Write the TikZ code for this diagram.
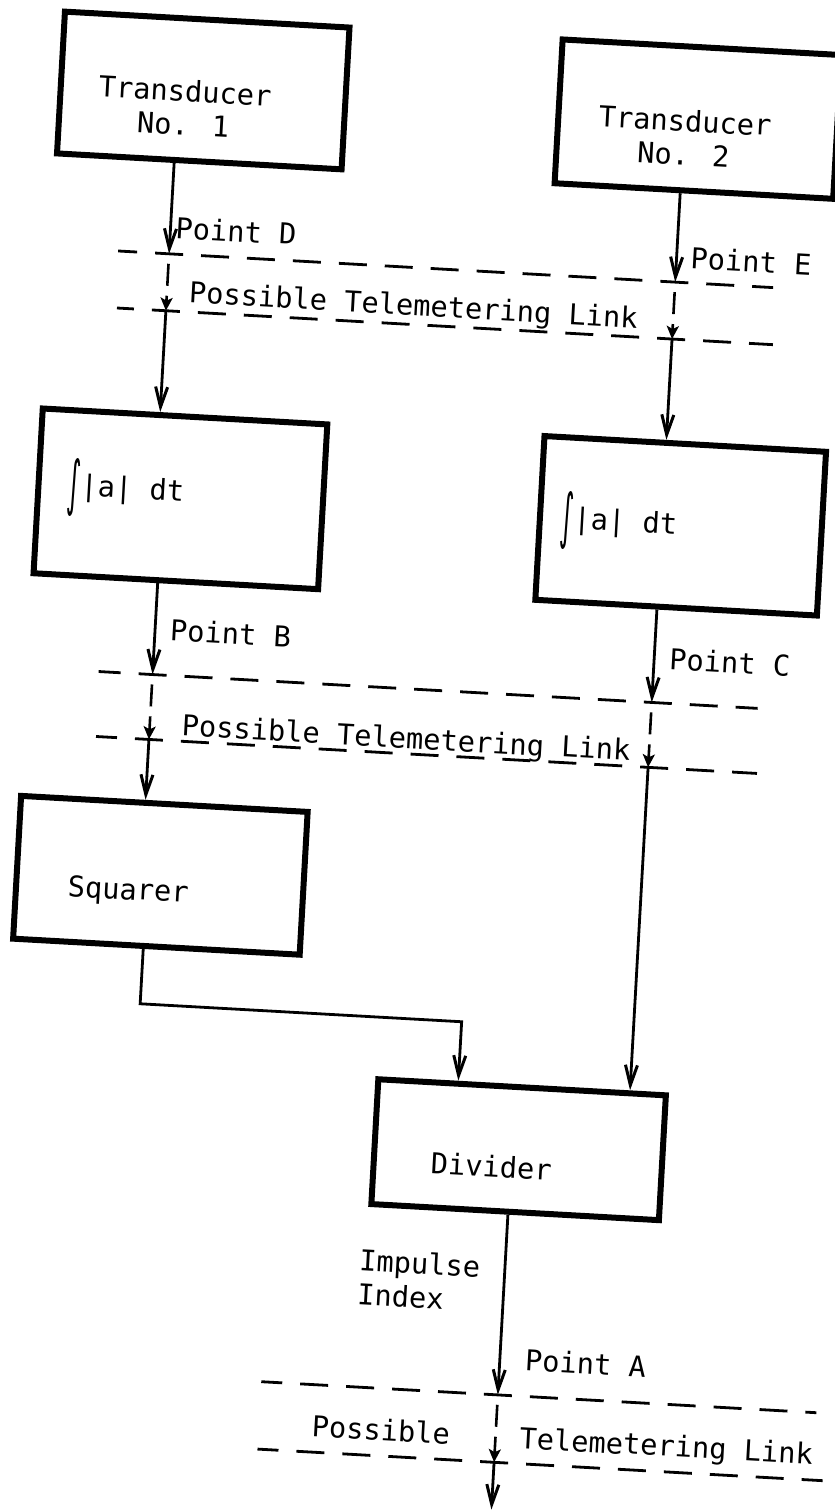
\documentclass[tikz,border=0pt]{standalone}
\usepackage{fontspec}
\newfontfamily\typer{DejaVu Sans Mono}
\newfontfamily\symtyper{DejaVu Sans}
\usepackage{tikz}
\usetikzlibrary{arrows.meta, calc}

\newcommand{\absint}{\raisebox{-9pt}{\scalebox{0.9}[2.1]{\symtyper ∫}}|a| dt}

\begin{document}
\begin{tikzpicture}[
    x=1pt, y=-1pt,
    font=\fontsize{28.7pt}{34pt}\typer,
    block/.style={rectangle, draw=black, line width=6pt, inner sep=0pt,
                  minimum width=285pt, minimum height=142pt},
    txt/.style={inner sep=0pt},
    arr/.style={-{Straight Barb[length=20pt,width=12pt,line width=3pt]}, line width=2.8pt},
    hop/.style={-{Stealth[length=13pt,width=12pt,inset=3pt]}, line width=2.6pt,
                dash pattern=on 22pt off 10pt, dash phase=22pt},
    link/.style={line width=2.8pt, dash pattern=on 28pt off 18pt, dash phase=#1}
]
\useasboundingbox (0,0) rectangle (835,1510);
\begin{scope}[rotate=-3.2, transform shape]
\node[block] (t1) at (208,79) {};
\node[block, minimum width=279pt, minimum height=144pt] (t2) at (703.5,80) {};
\node[block, minimum height=165pt] (i1) at (208,488) {};
\node[block, minimum width=282pt, minimum height=164pt] (i2) at (709,487) {};
\node[block, minimum width=287pt, minimum height=143pt] (sq) at (209,865) {};
\node[block, minimum width=288pt, minimum height=125pt] (dv) at (582,1119) {};
\node[txt, align=center] (t1txt) at (190,97) {Transducer\\No. 1};
\node[txt, align=center] (t2txt) at (691,99) {Transducer\\No. 2};
\node[txt, anchor=west] (i1txt) at (94,483) {\absint};
\node[txt, anchor=west] (i2txt) at (588,488) {\absint};
\node[txt, anchor=base west] (sqtxt) at (117,891) {Squarer};
\node[txt, anchor=base west] (dvtxt) at (495,1148) {Divider};
\node[txt, anchor=west, align=left] (idx) at (429,1255) {Impulse\\Index};
% taps and link boundaries
\coordinate (pd) at (183,244); \coordinate (pd2) at (183,301);
\coordinate (pe) at (690,244); \coordinate (pe2) at (690,301);
\coordinate (pb) at (190,665); \coordinate (pb2) at (190,730);
\coordinate (pc) at (690,665); \coordinate (pc2) at (690,730);
\coordinate (pa) at (575,1365); \coordinate (pa2) at (575,1432.5);
\coordinate (out) at (575,1480);
\draw[link=9pt]  (132,244) -- (788,244);
\draw[link=11pt] (134,301) -- (791,301);
\draw[link=6pt]  (136,665) -- (796,665);
\draw[link=7pt]  (137,730) -- (799,730);
\draw[link=7pt]  (338,1365) -- (894,1365);
\draw[link=7pt]  (338,1432.5) -- (904,1432.5);
\node[txt, anchor=base west] (lD) at (188,228) {Point D};
\node[txt, anchor=base west] (lE) at (704,230) {Point E};
\node[txt, anchor=base west] (tl1) at (205,292) {Possible Telemetering Link};
\node[txt, anchor=base west] (lB) at (205,630) {Point B};
\node[txt, anchor=base west] (lC) at (705,631) {Point C};
\node[txt, anchor=base west] (tl2) at (222,724.5) {Possible Telemetering Link};
\node[txt, anchor=base west] (lA) at (600,1339) {Point A};
\node[txt, anchor=base west] (tl3a) at (391,1417) {Possible};
\node[txt, anchor=base west] (tl3b) at (599,1417) {Telemetering Link};
\draw[arr] ($(t1.south)+(-25,0)$) -- (pd);
\draw[hop] (pd) -- (pd2);
\draw[arr] (pd2) -- ($(i1.north)+(-25,0)$);
\draw[arr] ($(t2.south)+(-13.5,0)$) -- (pe);
\draw[hop] (pe) -- (pe2);
\draw[arr] (pe2) -- ($(i2.north)+(-19,0)$);
\draw[arr] ($(i1.south)+(-18,0)$) -- (pb);
\draw[hop] (pb) -- (pb2);
\draw[arr] (pb2) -- ($(sq.north)+(-19,0)$);
\draw[arr] ($(i2.south)+(-19,0)$) -- (pc);
\draw[hop] (pc) -- (pc2);
\draw[arr] (pc2) -- ($(dv.north)+(108,0)$);
\draw[arr] ($(sq.south)+(-13,0)$) -- ++(0,55) -- ++(322,0) -- ($(dv.north)+(-64,0)$);
\draw[arr] ($(dv.south)+(-7,0)$) -- (pa);
\draw[hop] (pa) -- (pa2);
\draw[arr] (pa2) -- (out);
\end{scope}
\end{tikzpicture}
\end{document}
